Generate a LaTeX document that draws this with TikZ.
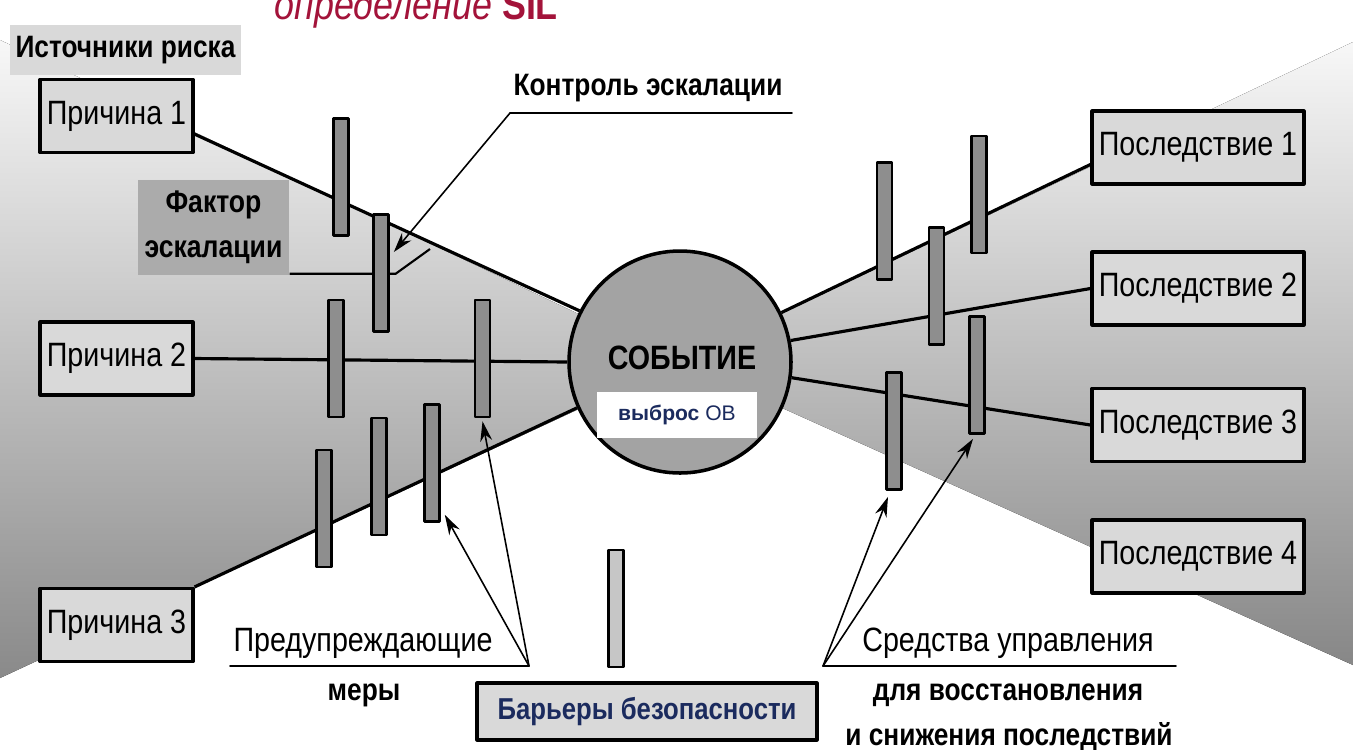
\documentclass[tikz,border=0pt]{standalone}
\usepackage{fontspec}
\setmainfont{Liberation Sans}[FakeStretch=0.85]
\newfontfamily\plainsans{Liberation Sans}
\usepackage{tikz}
\usetikzlibrary{arrows.meta,positioning,calc,backgrounds}
\definecolor{boxgray}{HTML}{D9D9D9}
\definecolor{bargray}{HTML}{8E8E8E}
\definecolor{lightbar}{HTML}{C6C6C6}
\definecolor{eventgray}{HTML}{A3A3A3}
\definecolor{factorgray}{HTML}{ABABAB}
\definecolor{titlered}{HTML}{A3133A}
\definecolor{navy}{HTML}{1B2B5E}
\newcommand\labelsize{\fontsize{9.6}{10}\selectfont}
\newcommand\boldsize{\fontsize{8.8}{10}\selectfont\bfseries}
\tikzset{
    every picture/.style={line cap=round,line join=round},
    causebox/.style={draw=black,fill=boxgray,line width=0.9pt,
      minimum width=15.3mm,minimum height=7.3mm,inner sep=0pt,font=\labelsize},
    effectbox/.style={causebox,minimum width=21.2mm},
    barrier/.style={draw=black,fill=bargray,line width=0.75pt,
      minimum width=1.5mm,minimum height=11.7mm,inner sep=0pt},
    link/.style={draw=black,line width=0.9pt},
    leader/.style={draw=black,line width=0.45pt},
    pointer/.style={-{Stealth[length=2mm,width=1.2mm]},draw=black,line width=0.45pt},
    caption/.style={inner sep=0pt,font=\labelsize},
    boldcaption/.style={inner sep=0pt,font=\boldsize}
}
\begin{document}
\begin{tikzpicture}[x=0.1mm,y=-0.1mm]
  \useasboundingbox (0,0) rectangle (1353,749);
  \node[anchor=base west,inner sep=0pt,text=titlered,
        font=\fontsize{12}{14}\selectfont\itshape] (title) at (274,19)
    {определение \textbf{\upshape SIL}};
  \node[fill=boxgray,minimum width=23.1mm,minimum height=5mm,inner sep=0pt,
        font=\boldsize] (sources) at (125.5,50) {Источники риска};
  % causes and consequences
  \node[causebox] (c1) at (116.5,116) {Причина 1};
  \node[causebox] (c2) at (116.5,358.5) {Причина 2};
  \node[causebox] (c3) at (116.5,625) {Причина 3};
  \node[effectbox] (p1) at (1198,147.5) {Последствие 1};
  \node[effectbox] (p2) at (1198,288.5) {Последствие 2};
  \node[effectbox] (p3) at (1198,425) {Последствие 3};
  \node[effectbox] (p4) at (1198,556.5) {Последствие 4};
  \node[circle,draw=black,fill=eventgray,line width=1pt,minimum size=22.2mm,
        inner sep=0pt] (ev) at (680,362) {};
  \node[inner sep=0pt,font=\labelsize\bfseries] (evname) at (682,358) {СОБЫТИЕ};
  \node[fill=white,minimum width=16mm,minimum height=4.6mm,inner sep=0pt,
        text=navy,font=\plainsans\fontsize{6}{7}\selectfont] (evtag) at (677,415)
    {\textbf{выброс} ОВ};
  % barriers
  \node[barrier] (bA) at (341,177) {};
  \node[barrier] (bB) at (381,273) {};
  \node[barrier] (bC) at (336,358.5) {};
  \node[barrier] (bD) at (482.5,358.5) {};
  \node[barrier] (bE) at (324,508.5) {};
  \node[barrier] (bF) at (379,476.5) {};
  \node[barrier] (bG) at (432,463) {};
  \node[barrier] (bR1) at (884.5,221) {};
  \node[barrier] (bR2) at (979,194.5) {};
  \node[barrier] (bR3) at (936.5,286) {};
  \node[barrier] (bR4) at (977,375) {};
  \node[barrier] (bR5) at (894,431) {};
  % escalation
  \node[fill=factorgray,minimum width=15.1mm,minimum height=9.5mm,inner sep=0pt,
        align=center,font=\fontsize{8.9}{12.8}\selectfont\bfseries] (fac) at (213.5,227.5)
    {Фактор\\эскалации};
  \node[boldcaption] (ctrl) at (648,88) {Контроль эскалации};
  \coordinate (ctrlknee) at (510,113);
  \coordinate (escend) at (430,249);
  % legend and captions
  \node[barrier,fill=lightbar] (legbar) at (616,608.5) {};
  \node[draw=black,fill=boxgray,line width=0.9pt,minimum width=34mm,minimum height=5.7mm,
        inner sep=0pt,text=navy,font=\fontsize{8.6}{10}\selectfont\bfseries] (legend) at (647,711.5)
    {Барьеры безопасности};
  \node[caption] (prevtop) at (363,643) {Предупреждающие};
  \node[boldcaption] (prevbot) at (364,695) {меры};
  \coordinate (prevknee) at (529,666);
  \node[caption] (mittop) at (1008,643) {Средства управления};
  \node[boldcaption] (mitmid) at (1008,695) {для восстановления};
  \node[boldcaption] (mitbot) at (1009,737) {и снижения последствий};
  \coordinate (mitknee) at (823,666);
  \begin{scope}[on background layer]
    \fill[top color=black!3,bottom color=black!46] (0,40) -- (ev.center) -- (0,678) -- cycle;
    \fill[top color=black!3,bottom color=black!47] (1353,42) -- (ev.center) -- (1353,665) -- cycle;
    \draw[link] ($(c1.south east)+(0,-20)$) -- (ev.153);
    \draw[link] (c2.east) -- (ev.180);
    \draw[link] (c3.north east) -- (ev.204);
    \draw[link] (ev.26) -- ($(p1.west)+(0,17)$);
    \draw[link] (ev.11) -- (p2.west);
    \draw[link] (ev.-8) -- (p3.west);
    \draw[link,line width=0.6pt] ($(fac.south east)+(0,-2)$) -- ++(106,0) -- (escend);
  \end{scope}
  \draw[leader] (792,113) -- (ctrlknee);
  \draw[pointer] (ctrlknee) -- ($(bB.east)+(4,-21)$);
  \draw[leader] (230,666) -- (prevknee);
  \draw[pointer] (prevknee) -- ($(bG.south east)+(4,-8)$);
  \draw[pointer] (prevknee) -- ($(bD.south)+(0,3)$);
  \draw[leader] (mitknee) -- (1176,666);
  \draw[pointer] (mitknee) -- ($(bR5.south)+(-6,6)$);
  \draw[pointer] (mitknee) -- ($(bR4.south)+(-4,4)$);
\end{tikzpicture}
\end{document}
